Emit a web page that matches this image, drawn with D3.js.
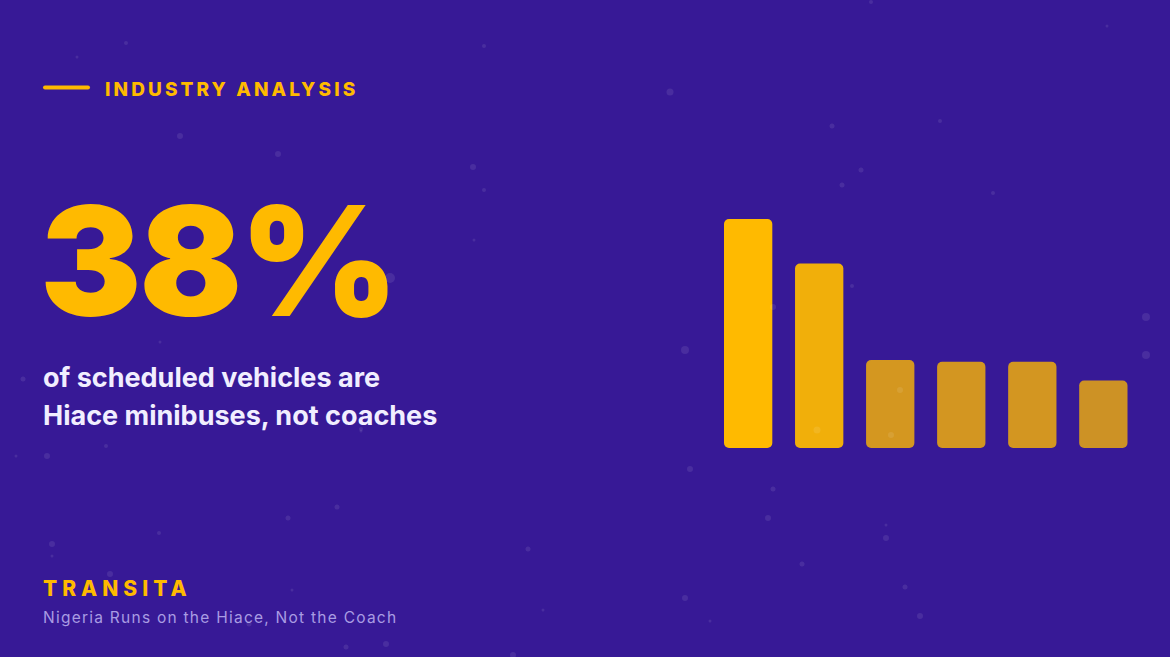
<!DOCTYPE html>
<html lang="en">
<head>
    <meta charset="UTF-8">
    <script src="https://cdn.jsdelivr.net/npm/d3@7/dist/d3.min.js"></script>
    <style>
        * { box-sizing: border-box; }
        html, body { margin: 0; padding: 0; background: #371996; }
        svg { display: block; }
    </style>
    <title>Transita - Industry Analysis</title>
</head>
<body>
    <svg id="chart" width="1170" height="657"></svg>
    <script>
        // bar data (relative share)
        let categories = ["cat1", "cat2", "cat3", "cat4", "cat5", "cat6"];
        let values = [38, 30.6, 14.6, 14.3, 14.3, 11.2];

        let kicker = "INDUSTRY ANALYSIS";
        let bigNumber = "38%";
        let subtitleLines = ["of scheduled vehicles are", "Hiace minibuses, not coaches"];
        let brand = "TRANSITA";
        let footnote = "Nigeria Runs on the Hiace, Not the Coach";

        // faint background specks [x, y, r]
        let bgDots = [
            [126, 43, 2], [77, 57, 1.5], [484, 46, 2], [871, 2, 2], [1107, 26, 1.5],
            [670, 92, 3.5], [180, 136, 3], [278, 154, 3], [832, 126, 2.5], [940, 121, 2],
            [473, 167, 3], [484, 190, 2], [861, 170, 2.5], [842, 185, 2.5], [993, 193, 2],
            [474, 240, 1.5], [390, 278, 5], [852, 286, 2], [773, 307, 3], [1146, 317, 4],
            [160, 342, 1.5], [685, 350, 4], [1146, 355, 4], [23, 379, 2.5], [900, 390, 3],
            [361, 429, 2], [817, 430, 3.5], [891, 435, 3], [106, 446, 2], [47, 456, 3],
            [16, 456, 1.5], [361, 431, 1.5], [690, 469, 3], [773, 489, 2.5], [337, 507, 2.5],
            [288, 518, 2.5], [768, 518, 3], [886, 525, 1.5], [886, 538, 3], [159, 533, 2],
            [52, 544, 3], [52, 556, 1.5], [528, 549, 2.5], [802, 564, 2.5], [110, 574, 3],
            [905, 587, 2.5], [292, 590, 1.5], [685, 598, 3], [543, 610, 1.5], [920, 616, 3],
            [710, 621, 1.5], [249, 624, 2.5], [386, 644, 3], [346, 647, 2.5], [513, 655, 3]
        ];

        let yellow = "#FFBA00";
        let svg = d3.select("#chart");
        let width = 1170, height = 657;

        svg.append("rect")
            .attr("width", width)
            .attr("height", height)
            .attr("fill", "#371996");

        // ---- left side texts ----
        svg.append("line")
            .attr("x1", 45).attr("x2", 88)
            .attr("y1", 87.5).attr("y2", 87.5)
            .attr("stroke", yellow)
            .attr("stroke-width", 4)
            .attr("stroke-linecap", "round");

        svg.append("text")
            .attr("x", 105).attr("y", 96)
            .attr("font-family", "Inter")
            .attr("font-weight", 800)
            .attr("font-size", 19)
            .attr("letter-spacing", 3.1)
            .attr("fill", yellow)
            .text(kicker);

        svg.append("text")
            .attr("x", 40).attr("y", 316)
            .attr("font-family", "Inter")
            .attr("font-weight", 900)
            .attr("font-size", 152)
            .attr("letter-spacing", -2.5)
            .attr("fill", yellow)
            .text(bigNumber);

        svg.append("text")
            .attr("font-family", "Inter")
            .attr("font-weight", 700)
            .attr("font-size", 27)
            .attr("fill", "#F1EEFF")
            .selectAll("tspan")
            .data(subtitleLines)
            .join("tspan")
            .attr("x", 43)
            .attr("y", (d, i) => 387 + i * 38)
            .text(d => d);

        svg.append("text")
            .attr("x", 43).attr("y", 596)
            .attr("font-family", "Inter")
            .attr("font-weight", 800)
            .attr("font-size", 21)
            .attr("letter-spacing", 5)
            .attr("fill", yellow)
            .text(brand);

        svg.append("text")
            .attr("x", 43).attr("y", 623)
            .attr("font-family", "Inter")
            .attr("font-weight", 400)
            .attr("font-size", 15.5)
            .attr("letter-spacing", 1.25)
            .attr("fill", "#A99CE3")
            .text(footnote);

        // ---- bars ----
        let x = d3.scaleBand()
            .domain(categories)
            .range([724, 1127.5])
            .paddingInner(0.32);

        let y = d3.scaleLinear()
            .domain([0, d3.max(values)])
            .range([448, 219]);

        let opacity = d3.scaleLinear()
            .domain([0, d3.max(values)])
            .range([0.65, 1]);

        svg.append("g")
            .selectAll("rect")
            .data(values)
            .join("rect")
            .attr("x", (d, i) => x(categories[i]))
            .attr("y", d => y(d))
            .attr("width", x.bandwidth())
            .attr("height", d => y(0) - y(d))
            .attr("rx", 5)
            .attr("fill", yellow)
            .attr("fill-opacity", d => opacity(d));

        // ---- specks on top ----
        svg.append("g")
            .selectAll("circle")
            .data(bgDots)
            .join("circle")
            .attr("cx", d => d[0])
            .attr("cy", d => d[1])
            .attr("r", d => d[2])
            .attr("fill", "#ffffff")
            .attr("fill-opacity", 0.09);
    </script>
</body>
</html>
